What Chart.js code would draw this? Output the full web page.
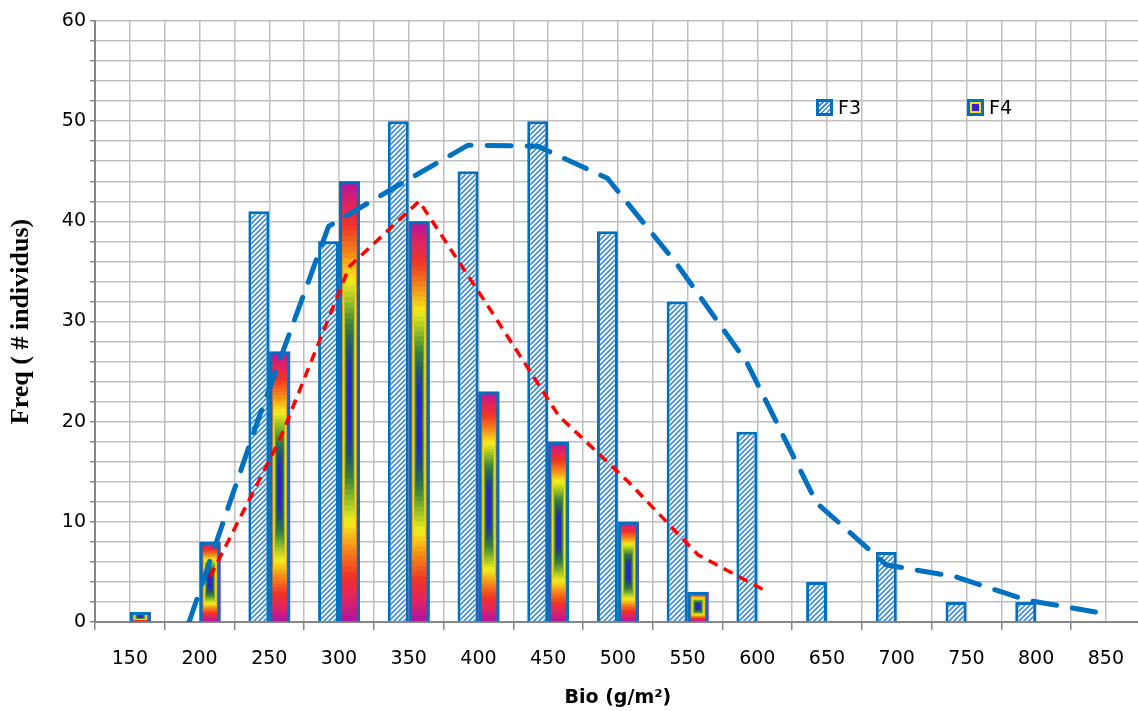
<!DOCTYPE html>
<html lang="fr">
<head>
<meta charset="utf-8">
<title>Freq F3 / F4</title>
<script src="https://cdn.jsdelivr.net/npm/chart.js@4.4.8/dist/chart.umd.min.js"></script>
<style>
    html, body { margin: 0; padding: 0; background: #fff; overflow: hidden; }
    #wrap { position: relative; width: 1142px; height: 711px; }
    .legend-item {
        position: absolute; top: 96px; display: flex; align-items: center; gap: 5px;
        font-family: 'DejaVu Sans', sans-serif; font-size: 19px; line-height: 22px; color: #000;
    }
    .sw { width: 11px; height: 11px; border: 3px solid #0070C0; box-sizing: content-box; }
    .sw-f3 { background: repeating-linear-gradient(-45deg, #fff 0 1.6px, #4a90d9 1.6px 3.4px); }
    .sw-f4 { background: #3a22c8; box-shadow: inset 0 0 0 2px #f2e21c; }
</style>
</head>
<body>
<div id="wrap">
    <canvas id="freqChart"></canvas>
    <div class="legend-item" style="left:816px;"><span class="sw sw-f3"></span>F3</div>
    <div class="legend-item" style="left:967px;"><span class="sw sw-f4"></span>F4</div>
</div>

<script>
    // classes de biomasse (g/m²)
    const bioLabels = ['150', '200', '250', '300', '350', '400', '450', '500',
                       '550', '600', '650', '700', '750', '800', '850'];
    // effectifs observés
    const f3Counts = [0, 0, 41, 38, 50, 45, 50, 39, 32, 19, 4, 7, 2, 2, 0];
    const f4Counts = [1, 8, 27, 44, 40, 23, 18, 10, 3, 0, 0, 0, 0, 0, 0];
    // courbes ajustées (null = pas de point)
    const f3Fit = [null, 0, 20.4, 39.5, 43.6, 47.6, 47.5, 44.3, 35.7, 25.9, 11.9, 5.7, 4.5, 2.2, 1.0];
    const f4Fit = [null, 4.5, 18.2, 35.5, 42.0, 31.4, 20.6, 14.0, 6.7, 3.0, null, null, null, null, null];

    const BLUE = '#0070C0';
    const GRID = '#BFBFBF';
    const AXIS = '#868686';
    const FONT = "'DejaVu Sans', sans-serif";
    const CAT_PCT = 0.6;
    // centre de chaque barre dans sa classe (F3 à gauche, F4 à droite)
    const barShift = CAT_PCT / 4;

    Chart.defaults.color = '#000';
    Chart.defaults.font.family = FONT;

    // hachures du F3
    function makeHatch() {
        const c = document.createElement('canvas');
        c.width = c.height = 5;
        const g = c.getContext('2d');
        g.fillStyle = '#fff';
        g.fillRect(0, 0, 5, 5);
        g.strokeStyle = '#4a90d9';
        g.lineWidth = 1.8;
        g.beginPath();
        g.moveTo(-1, 6); g.lineTo(6, -1);
        g.moveTo(-1, 1); g.lineTo(1, -1);
        g.moveTo(4, 6); g.lineTo(6, 4);
        g.stroke();
        return g.createPattern(c, 'repeat');
    }

    // dégradé "rectangle" du F4 : bord magenta -> centre bleu
    const ramp = [
        [0.00, [176, 20, 160]],
        [0.10, [225, 35, 100]],
        [0.20, [240, 50, 40]],
        [0.32, [245, 130, 25]],
        [0.45, [245, 238, 30]],
        [0.55, [150, 190, 40]],
        [0.65, [60, 130, 60]],
        [0.75, [35, 85, 110]],
        [0.85, [40, 40, 200]],
        [1.00, [55, 30, 215]]
    ];
    function rampColor(t) {
        for (let i = 1; i < ramp.length; i++) {
            if (t <= ramp[i][0]) {
                const [t0, c0] = ramp[i - 1], [t1, c1] = ramp[i];
                const f = (t - t0) / (t1 - t0);
                const c = c0.map((v, k) => Math.round(v + (c1[k] - v) * f));
                return `rgb(${c[0]},${c[1]},${c[2]})`;
            }
        }
        return 'rgb(55,30,215)';
    }

    const pathGradient = {
        id: 'pathGradient',
        beforeDatasetDraw(chart, args) {
            if (chart.data.datasets[args.index].label !== 'F4') return;
            const ctx = chart.ctx;
            const area = chart.chartArea;
            ctx.save();
            ctx.beginPath();
            ctx.rect(area.left, area.top, area.width, area.height);
            ctx.clip();
            args.meta.data.forEach(bar => {
                const {x, y, base, width} = bar.getProps(['x', 'y', 'base', 'width'], true);
                const top = Math.min(y, base);
                const h = Math.abs(base - y);
                if (h < 1) return;
                const left = x - width / 2;
                const steps = 40;
                for (let k = 0; k < steps; k++) {
                    const t = k / steps;
                    ctx.fillStyle = rampColor((k + 0.5) / steps);
                    ctx.fillRect(left + t * width / 2, top + t * h / 2, width * (1 - t), h * (1 - t));
                }
            });
            ctx.restore();
        }
    };

    // toutes les séries sur l'axe linéaire 'xl' (0 = 1re classe)
    const toPoints = values => values.map((v, i) => ({x: i, y: v}));
    function fitPoints(values, shift) {
        const pts = [];
        values.forEach((v, i) => { if (v !== null) pts.push({x: i + shift, y: v}); });
        return pts;
    }

    new Chart(document.getElementById('freqChart'), {
        data: {
            labels: bioLabels,
            datasets: [
                {
                    type: 'bar',
                    label: 'F3',
                    data: toPoints(f3Counts),
                    xAxisID: 'xl',
                    backgroundColor: makeHatch(),
                    borderColor: BLUE,
                    borderWidth: 3,
                    categoryPercentage: CAT_PCT,
                    barPercentage: 1,
                    order: 2
                },
                {
                    type: 'bar',
                    label: 'F4',
                    data: toPoints(f4Counts),
                    xAxisID: 'xl',
                    backgroundColor: 'rgba(0,0,0,0)',
                    borderColor: BLUE,
                    borderWidth: 3,
                    categoryPercentage: CAT_PCT,
                    barPercentage: 1,
                    order: 2
                },
                {
                    type: 'line',
                    label: 'F3 ajust.',
                    data: fitPoints(f3Fit, -barShift),
                    xAxisID: 'xl',
                    borderColor: BLUE,
                    borderWidth: 5,
                    borderDash: [24, 16],
                    borderCapStyle: 'round',
                    pointRadius: 0,
                    tension: 0,
                    fill: false,
                    order: 1
                },
                {
                    type: 'line',
                    label: 'F4 ajust.',
                    data: fitPoints(f4Fit, barShift),
                    xAxisID: 'xl',
                    borderColor: '#FF0000',
                    borderWidth: 3.5,
                    borderDash: [10, 7],
                    pointRadius: 0,
                    tension: 0,
                    fill: false,
                    order: 0
                }
            ]
        },
        plugins: [pathGradient],
        options: {
            responsive: true,
            maintainAspectRatio: false,
            animation: false,
            events: [],
            layout: { padding: { top: 21, right: 0, bottom: 0, left: 0 } },
            plugins: {
                legend: { display: false },
                tooltip: { enabled: false }
            },
            scales: {
                // axe des classes : étiquettes, graduations et quadrillage aux limites de classe
                x: {
                    type: 'category',
                    offset: true,
                    grid: {
                        offset: true,
                        color: GRID,
                        lineWidth: 1.5,
                        drawTicks: true,
                        tickLength: 8,
                        tickColor: AXIS
                    },
                    border: { color: AXIS, width: 2 },
                    ticks: { font: { size: 19 }, padding: 18, maxRotation: 0, autoSkip: false },
                    title: {
                        display: true,
                        text: 'Bio (g/m²)',
                        font: { size: 19, weight: 'bold' },
                        padding: { top: 0, bottom: 2 }
                    },
                    afterFit(scale) { scale.height = 89; }
                },
                // quadrillage secondaire au centre de chaque classe
                xc: {
                    type: 'category',
                    position: 'bottom',
                    offset: true,
                    ticks: { display: false },
                    grid: { offset: false, color: GRID, lineWidth: 1.5, drawTicks: false },
                    border: { display: false },
                    afterFit(scale) { scale.height = 0; }
                },
                // axe numérique caché portant les séries
                xl: {
                    type: 'linear',
                    position: 'bottom',
                    min: -0.5,
                    max: 14.5,
                    offset: false,
                    ticks: { display: false, stepSize: 1 },
                    grid: { display: false },
                    border: { display: false },
                    afterFit(scale) { scale.height = 0; }
                },
                y: {
                    min: 0,
                    max: 60,
                    ticks: {
                        stepSize: 2,
                        autoSkip: false,
                        font: { size: 19 },
                        padding: 4,
                        callback: v => (v % 10 === 0 ? v : '')
                    },
                    grid: { color: GRID, lineWidth: 1.5, tickLength: 5, tickColor: AXIS },
                    border: { color: AXIS, width: 2 },
                    title: {
                        display: true,
                        text: 'Freq ( # individus)',
                        font: { family: "'Liberation Serif', serif", size: 26, weight: 'bold' },
                        padding: { top: 6, bottom: 0 }
                    },
                    afterFit(scale) { scale.width = 95; }
                }
            }
        }
    });
</script>
</body>
</html>
